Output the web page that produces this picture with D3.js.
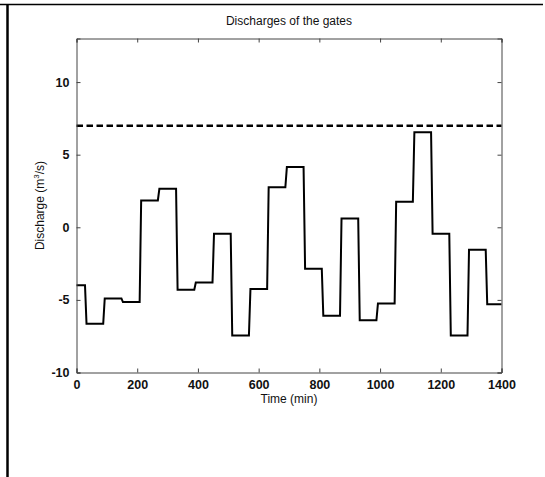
<!DOCTYPE html>
<html>
<head>
<meta charset="utf-8">
<script src="https://cdn.jsdelivr.net/npm/d3@7"></script>
<style>
  body { margin: 0; background: #fff; }
  svg { display: block; }
  text { font-family: "Liberation Sans", Arial, Helvetica, sans-serif; fill: #111; }
</style>
</head>
<body>
<script>
// gate discharge, one level per hour-ish block (m3/s)
const levels = [-4.0, -6.65, -4.9, -5.15, 1.85, 2.65, -4.3, -3.8, -0.45, -7.45,
  -4.25, 2.75, 4.15, -2.85, -6.1, 0.6, -6.4, -5.25, 1.75, 6.55, -0.45, -7.45, -1.55, -5.3];
// times where the gate setting changes (min)
const switchTimes = [30, 90, 150, 210, 270, 330, 390, 450, 510, 570, 630, 690,
  750, 810, 870, 930, 990, 1050, 1110, 1170, 1230, 1290, 1350];
const limitValue = 7;
const xTicks = [0, 200, 400, 600, 800, 1000, 1200, 1400];
const yTicks = [-10, -5, 0, 5, 10];

const width = 545, height = 477;
const margin = {top: 38.5, right: 43.5, bottom: 104.5, left: 76.5};
const innerWidth = width - margin.left - margin.right;
const innerHeight = height - margin.top - margin.bottom;

const svg = d3.select("body").append("svg")
  .attr("width", width)
  .attr("height", height);

// page frame (table borders)
svg.append("line").attr("x1", 0).attr("x2", 543).attr("y1", 4.5).attr("y2", 4.5)
  .attr("stroke", "#000").attr("stroke-width", 1.5);
svg.append("line").attr("x1", 7.5).attr("x2", 7.5).attr("y1", 4).attr("y2", height)
  .attr("stroke", "#000").attr("stroke-width", 2.5);

const g = svg.append("g")
  .attr("transform", `translate(${margin.left}, ${margin.top})`);

const x = d3.scaleLinear().domain([0, 1400]).range([0, innerWidth]);
const y = d3.scaleLinear().domain([-10, 13]).range([innerHeight, 0]);

// build the step line: flat at each level, short ramp at each switch
const pts = [];
levels.forEach((v, i) => {
  const t0 = i === 0 ? 0 : switchTimes[i - 1] + 3;
  const t1 = i === levels.length - 1 ? 1400 : switchTimes[i] - 2;
  pts.push([t0, v], [t1, v]);
});

const line = d3.line().x(d => x(d[0])).y(d => y(d[1]));

g.append("line")
  .attr("x1", x(0)).attr("x2", x(1400))
  .attr("y1", y(limitValue)).attr("y2", y(limitValue))
  .attr("stroke", "#000").attr("stroke-width", 2.5)
  .attr("stroke-dasharray", "6.5,3.5");

g.append("path").datum(pts)
  .attr("d", line)
  .attr("fill", "none")
  .attr("stroke", "#000")
  .attr("stroke-width", 2)
  .attr("stroke-linejoin", "miter");

// axes, MATLAB style: box with inward ticks
const tickLen = 4;
const axisColor = "#444";

const xAxis = d3.axisBottom(x).tickValues(xTicks).tickSize(-tickLen).tickPadding(8)
  .tickFormat(d3.format("d"));
const xTop = d3.axisTop(x).tickValues(xTicks).tickSize(-tickLen);
const yAxis = d3.axisLeft(y).tickValues(yTicks).tickSize(-tickLen).tickPadding(7)
  .tickFormat(d => d < 0 ? "-" + Math.abs(d) : d);
const yRight = d3.axisRight(y).tickValues(yTicks).tickSize(-tickLen);

const gx = g.append("g").attr("transform", `translate(0, ${innerHeight})`).call(xAxis);
const gxt = g.append("g").call(xTop);
const gy = g.append("g").call(yAxis);
const gyr = g.append("g").attr("transform", `translate(${innerWidth}, 0)`).call(yRight);

// the box sides carry ticks only
gxt.selectAll("text").remove();
gyr.selectAll("text").remove();

[gx, gxt, gy, gyr].forEach(a => {
  a.selectAll("path, line").attr("stroke", axisColor).attr("stroke-width", 1);
  a.selectAll("text")
    .style("font-size", "12.5px")
    .style("font-weight", "bold")
    .attr("fill", "#111");
});

// title and labels
svg.append("text")
  .attr("x", margin.left + innerWidth / 2)
  .attr("y", 25)
  .attr("text-anchor", "middle")
  .style("font-size", "12px")
  .text("Discharges of the gates");

svg.append("text")
  .attr("x", margin.left + innerWidth / 2)
  .attr("y", 403)
  .attr("text-anchor", "middle")
  .style("font-size", "12px")
  .text("Time (min)");

const yl = svg.append("text")
  .attr("transform", `translate(44, ${margin.top + innerHeight / 2}) rotate(-90)`)
  .attr("text-anchor", "middle")
  .style("font-size", "12px");
yl.append("tspan").text("Discharge (m");
yl.append("tspan").attr("dy", -5).style("font-size", "8px").text("3");
yl.append("tspan").attr("dy", 5).text("/s)");
</script>
</body>
</html>
